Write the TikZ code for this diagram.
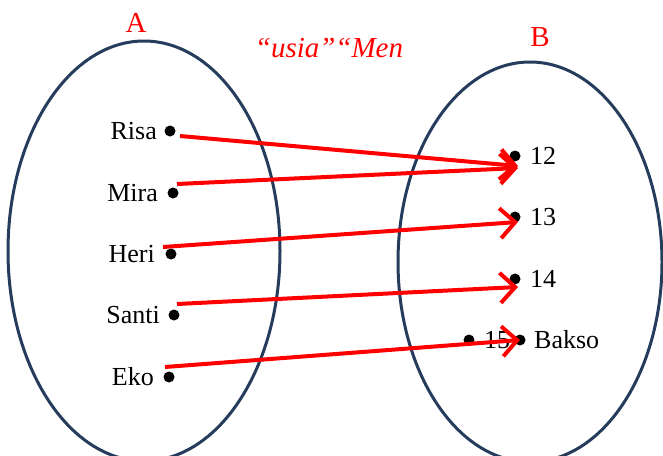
\documentclass[tikz,border=0pt]{standalone}
\usepackage{fontspec}
\setmainfont{Liberation Serif}
\usetikzlibrary{shapes.geometric,arrows.meta}
\definecolor{setline}{RGB}{38,60,92}
\tikzset{
  setoval/.style={ellipse, draw=setline, line width=3pt, inner sep=0pt},
  pt/.style={circle, fill=black, inner sep=0pt, minimum size=11pt},
  lbl/.style={font=\fontsize{26}{28}\selectfont, inner sep=0pt},
  setname/.style={font=\fontsize{29}{31}\selectfont, text=red, inner sep=0pt},
  maparrow/.style={draw=red, line width=4pt, -{Straight Barb[length=15pt,width=30pt]}}
}
\begin{document}
\begin{tikzpicture}[x=1pt,y=-1pt]
\useasboundingbox (0,0) rectangle (663,455);
\clip (0,0) rectangle (663,455);
\node[setoval, minimum width=272pt, minimum height=420pt] (setA) at (144,251) {};
\node[setoval, minimum width=264pt, minimum height=400pt] (setB) at (530,262) {};
\node[setname] (nameA) at (136,23) {A};
\node[setname] (nameB) at (540,37) {B};
\node[setname, font=\fontsize{29}{31}\selectfont\itshape] (title) at (329,48) {“usia”“Men};
% domain
\node[pt] (risa) at (170,131) {};
\node[pt] (mira) at (173,193) {};
\node[pt] (heri) at (171,254) {};
\node[pt] (santi) at (174,315) {};
\node[pt] (eko) at (169,377) {};
\node[lbl, anchor=east] (lrisa) at (157,131) {Risa};
\node[lbl, anchor=east] (lmira) at (158,193) {Mira};
\node[lbl, anchor=east] (lheri) at (155,254) {Heri};
\node[lbl, anchor=east] (lsanti) at (160,315) {Santi};
\node[lbl, anchor=east] (leko) at (154,377) {Eko};
% codomain
\node[pt] (b12) at (515,156) {};
\node[pt] (b13) at (515,217) {};
\node[pt] (b14) at (515,279) {};
\node[pt] (b15) at (469,340) {};
\node[pt] (bakso) at (520,340) {};
\node[lbl, anchor=west] (l12) at (530,156) {12};
\node[lbl, anchor=west] (l13) at (530,217) {13};
\node[lbl, anchor=west] (l14) at (530,279) {14};
\node[lbl] (l15) at (497,340) {15};
\node[lbl, anchor=west] (lbakso) at (534,340) {Bakso};
% arrow ends
\coordinate (s1) at (180,136);
\coordinate (s2) at (177,184);
\coordinate (s3) at (163,247);
\coordinate (s4) at (177,304);
\coordinate (s5) at (165,367);
\coordinate (e1) at (518,166);
\coordinate (e2) at (518,168);
\coordinate (e3) at (518,222);
\coordinate (e4) at (518,287);
\coordinate (e5) at (520,340);
\draw[maparrow] (s1) -- (e1);
\draw[maparrow] (s2) -- (e2);
\draw[maparrow] (s3) -- (e3);
\draw[maparrow] (s4) -- (e4);
\draw[maparrow] (s5) -- (e5);
\end{tikzpicture}
\end{document}
